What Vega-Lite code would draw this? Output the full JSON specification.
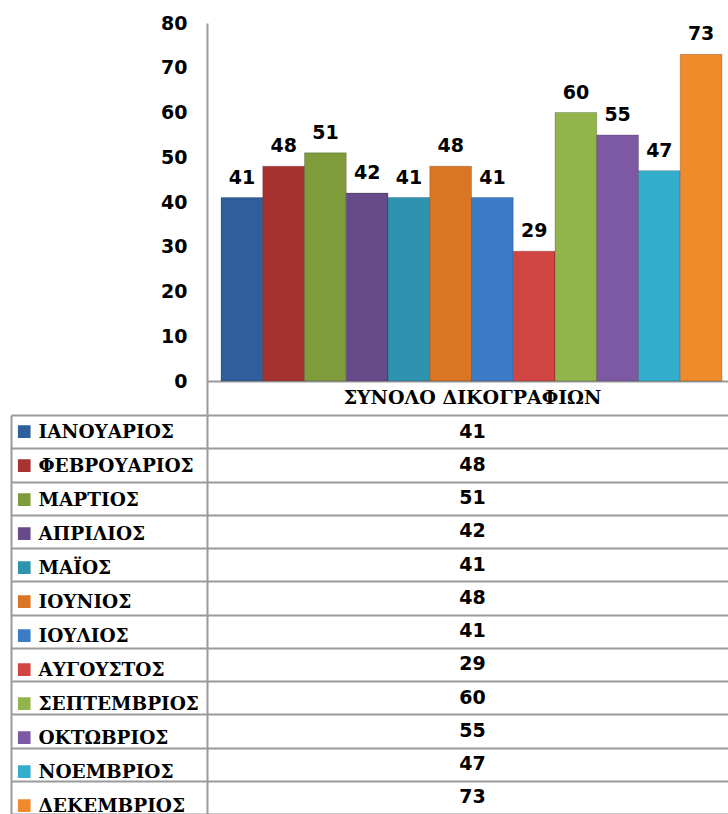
{
  "$schema": "https://vega.github.io/schema/vega-lite/v6.json",
  "padding": {"left": 11, "top": 14, "right": 0, "bottom": 0},
  "background": "white",
  "config": {
    "view": {"stroke": null},
    "concat": {"spacing": 0},
    "axis": {"domainColor": "#9a9a9a", "domainWidth": 2, "gridColor": "#9a9a9a", "gridWidth": 2, "gridOpacity": 1}
  },
  "datasets": {
    "months": [
      {"cat": "ΣΥΝΟΛΟ ΔΙΚΟΓΡΑΦΙΩΝ", "month": "ΙΑΝΟΥΑΡΙΟΣ", "value": 41},
      {"cat": "ΣΥΝΟΛΟ ΔΙΚΟΓΡΑΦΙΩΝ", "month": "ΦΕΒΡΟΥΑΡΙΟΣ", "value": 48},
      {"cat": "ΣΥΝΟΛΟ ΔΙΚΟΓΡΑΦΙΩΝ", "month": "ΜΑΡΤΙΟΣ", "value": 51},
      {"cat": "ΣΥΝΟΛΟ ΔΙΚΟΓΡΑΦΙΩΝ", "month": "ΑΠΡΙΛΙΟΣ", "value": 42},
      {"cat": "ΣΥΝΟΛΟ ΔΙΚΟΓΡΑΦΙΩΝ", "month": "ΜΑΪΟΣ", "value": 41},
      {"cat": "ΣΥΝΟΛΟ ΔΙΚΟΓΡΑΦΙΩΝ", "month": "ΙΟΥΝΙΟΣ", "value": 48},
      {"cat": "ΣΥΝΟΛΟ ΔΙΚΟΓΡΑΦΙΩΝ", "month": "ΙΟΥΛΙΟΣ", "value": 41},
      {"cat": "ΣΥΝΟΛΟ ΔΙΚΟΓΡΑΦΙΩΝ", "month": "ΑΥΓΟΥΣΤΟΣ", "value": 29},
      {"cat": "ΣΥΝΟΛΟ ΔΙΚΟΓΡΑΦΙΩΝ", "month": "ΣΕΠΤΕΜΒΡΙΟΣ", "value": 60},
      {"cat": "ΣΥΝΟΛΟ ΔΙΚΟΓΡΑΦΙΩΝ", "month": "ΟΚΤΩΒΡΙΟΣ", "value": 55},
      {"cat": "ΣΥΝΟΛΟ ΔΙΚΟΓΡΑΦΙΩΝ", "month": "ΝΟΕΜΒΡΙΟΣ", "value": 47},
      {"cat": "ΣΥΝΟΛΟ ΔΙΚΟΓΡΑΦΙΩΝ", "month": "ΔΕΚΕΜΒΡΙΟΣ", "value": 73}
    ],
    "header": [{"cat": "ΣΥΝΟΛΟ ΔΙΚΟΓΡΑΦΙΩΝ"}]
  },
  "resolve": {"scale": {"color": "independent"}, "legend": {"color": "independent"}},
  "bounds": "flush",
  "spacing": 0,
  "columns": 2,
  "concat": [
    {
      "width": 196,
      "height": 358,
      "data": {"name": "header"},
      "mark": {"type": "text", "opacity": 0},
      "encoding": {"text": {"value": ""}}
    },
    {
      "width": 521,
      "height": 358,
      "data": {"name": "months"},
      "encoding": {
        "x": {
          "field": "cat", "type": "nominal",
          "scale": {"paddingInner": 0, "paddingOuter": 0},
          "axis": {"title": null, "labels": false, "ticks": false, "domain": true}
        },
        "xOffset": {
          "field": "month", "type": "nominal", "sort": null,
          "scale": {"domain": ["ΙΑΝΟΥΑΡΙΟΣ","ΦΕΒΡΟΥΑΡΙΟΣ","ΜΑΡΤΙΟΣ","ΑΠΡΙΛΙΟΣ","ΜΑΪΟΣ","ΙΟΥΝΙΟΣ","ΙΟΥΛΙΟΣ","ΑΥΓΟΥΣΤΟΣ","ΣΕΠΤΕΜΒΡΙΟΣ","ΟΚΤΩΒΡΙΟΣ","ΝΟΕΜΒΡΙΟΣ","ΔΕΚΕΜΒΡΙΟΣ"], "paddingInner": 0, "paddingOuter": 0.24, "align": 0.7}
        },
        "y": {
          "field": "value", "type": "quantitative",
          "scale": {"domain": [0, 80], "nice": false},
          "axis": {
            "title": null, "values": [0,10,20,30,40,50,60,70,80], "grid": false, "ticks": false,
            "labelFont": "DejaVu Sans", "labelFontWeight": "bold", "labelFontSize": 19,
            "labelColor": "black", "labelPadding": 20
          }
        }
      },
      "layer": [
        {
          "mark": {"type": "bar", "stroke": "#00000033", "strokeWidth": 1},
          "encoding": {
            "color": {
              "field": "month", "type": "nominal", "sort": null,
              "scale": {
                "domain": ["ΙΑΝΟΥΑΡΙΟΣ","ΦΕΒΡΟΥΑΡΙΟΣ","ΜΑΡΤΙΟΣ","ΑΠΡΙΛΙΟΣ","ΜΑΪΟΣ","ΙΟΥΝΙΟΣ","ΙΟΥΛΙΟΣ","ΑΥΓΟΥΣΤΟΣ","ΣΕΠΤΕΜΒΡΙΟΣ","ΟΚΤΩΒΡΙΟΣ","ΝΟΕΜΒΡΙΟΣ","ΔΕΚΕΜΒΡΙΟΣ"],
                "range": ["#2E5F9C","#A8322F","#7E9C3A","#664A8A","#2E93AE","#DA7524","#3C7BC6","#D04442","#91B54A","#7D59A4","#35ADCD","#F08A2B"]
              },
              "legend": null
            }
          }
        },
        {
          "mark": {"type": "text", "baseline": "alphabetic", "dy": -14, "font": "DejaVu Sans", "fontWeight": "bold", "fontSize": 19, "color": "black"},
          "encoding": {"text": {"field": "value", "type": "quantitative"}}
        }
      ]
    },
    {
      "width": 196,
      "height": 33.25,
      "data": {"name": "header"},
      "mark": {"type": "text", "opacity": 0},
      "encoding": {"text": {"value": ""}}
    },
    {
      "width": 521,
      "height": 33.25,
      "data": {"name": "header"},
      "mark": {"type": "text", "font": "DejaVu Serif", "fontWeight": "bold", "fontSize": 19, "color": "black", "dx": 5},
      "encoding": {
        "y": {
          "field": "cat", "type": "nominal",
          "scale": {"paddingInner": 0, "paddingOuter": 0},
          "axis": {"title": null, "labels": false, "ticks": false, "domain": true, "grid": false}
        },
        "text": {"field": "cat", "type": "nominal"}
      }
    },
    {
      "width": 196,
      "height": 399,
      "data": {"name": "months"},
      "mark": {"type": "square", "opacity": 0},
      "encoding": {
        "y": {
          "field": "month", "type": "nominal", "sort": null,
          "scale": {"domain": ["ΙΑΝΟΥΑΡΙΟΣ","ΦΕΒΡΟΥΑΡΙΟΣ","ΜΑΡΤΙΟΣ","ΑΠΡΙΛΙΟΣ","ΜΑΪΟΣ","ΙΟΥΝΙΟΣ","ΙΟΥΛΙΟΣ","ΑΥΓΟΥΣΤΟΣ","ΣΕΠΤΕΜΒΡΙΟΣ","ΟΚΤΩΒΡΙΟΣ","ΝΟΕΜΒΡΙΟΣ","ΔΕΚΕΜΒΡΙΟΣ"], "paddingInner": 0, "paddingOuter": 0},
          "axis": {"title": null, "labels": false, "ticks": false, "domain": true, "grid": true, "tickBand": "extent"}
        },
        "color": {
          "field": "month", "type": "nominal", "sort": null,
          "scale": {
            "domain": ["ΙΑΝΟΥΑΡΙΟΣ","ΦΕΒΡΟΥΑΡΙΟΣ","ΜΑΡΤΙΟΣ","ΑΠΡΙΛΙΟΣ","ΜΑΪΟΣ","ΙΟΥΝΙΟΣ","ΙΟΥΛΙΟΣ","ΑΥΓΟΥΣΤΟΣ","ΣΕΠΤΕΜΒΡΙΟΣ","ΟΚΤΩΒΡΙΟΣ","ΝΟΕΜΒΡΙΟΣ","ΔΕΚΕΜΒΡΙΟΣ"],
            "range": ["#2E5F9C","#A8322F","#7E9C3A","#664A8A","#2E93AE","#DA7524","#3C7BC6","#D04442","#91B54A","#7D59A4","#35ADCD","#F08A2B"]
          },
          "legend": {
            "title": null, "orient": "top-left", "offset": 0, "padding": 0,
            "direction": "vertical", "columns": 1,
            "symbolType": "square", "symbolSize": 160, "symbolStrokeWidth": 0, "symbolOpacity": 1,
            "symbolOffset": 4,
            "clipHeight": 33.25, "rowPadding": 0,
            "labelFont": "DejaVu Serif", "labelFontWeight": "bold", "labelFontSize": 18.5,
            "labelColor": "black", "labelLimit": 0, "labelOffset": 5
          }
        }
      }
    },
    {
      "width": 521,
      "height": 399,
      "data": {"name": "months"},
      "mark": {"type": "text", "font": "DejaVu Sans", "fontWeight": "bold", "fontSize": 19, "color": "black", "dx": 5},
      "encoding": {
        "y": {
          "field": "month", "type": "nominal", "sort": null,
          "scale": {"domain": ["ΙΑΝΟΥΑΡΙΟΣ","ΦΕΒΡΟΥΑΡΙΟΣ","ΜΑΡΤΙΟΣ","ΑΠΡΙΛΙΟΣ","ΜΑΪΟΣ","ΙΟΥΝΙΟΣ","ΙΟΥΛΙΟΣ","ΑΥΓΟΥΣΤΟΣ","ΣΕΠΤΕΜΒΡΙΟΣ","ΟΚΤΩΒΡΙΟΣ","ΝΟΕΜΒΡΙΟΣ","ΔΕΚΕΜΒΡΙΟΣ"], "paddingInner": 0, "paddingOuter": 0},
          "axis": {"title": null, "labels": false, "ticks": false, "domain": true, "grid": true, "tickBand": "extent"}
        },
        "text": {"field": "value", "type": "quantitative"}
      }
    }
  ]
}
